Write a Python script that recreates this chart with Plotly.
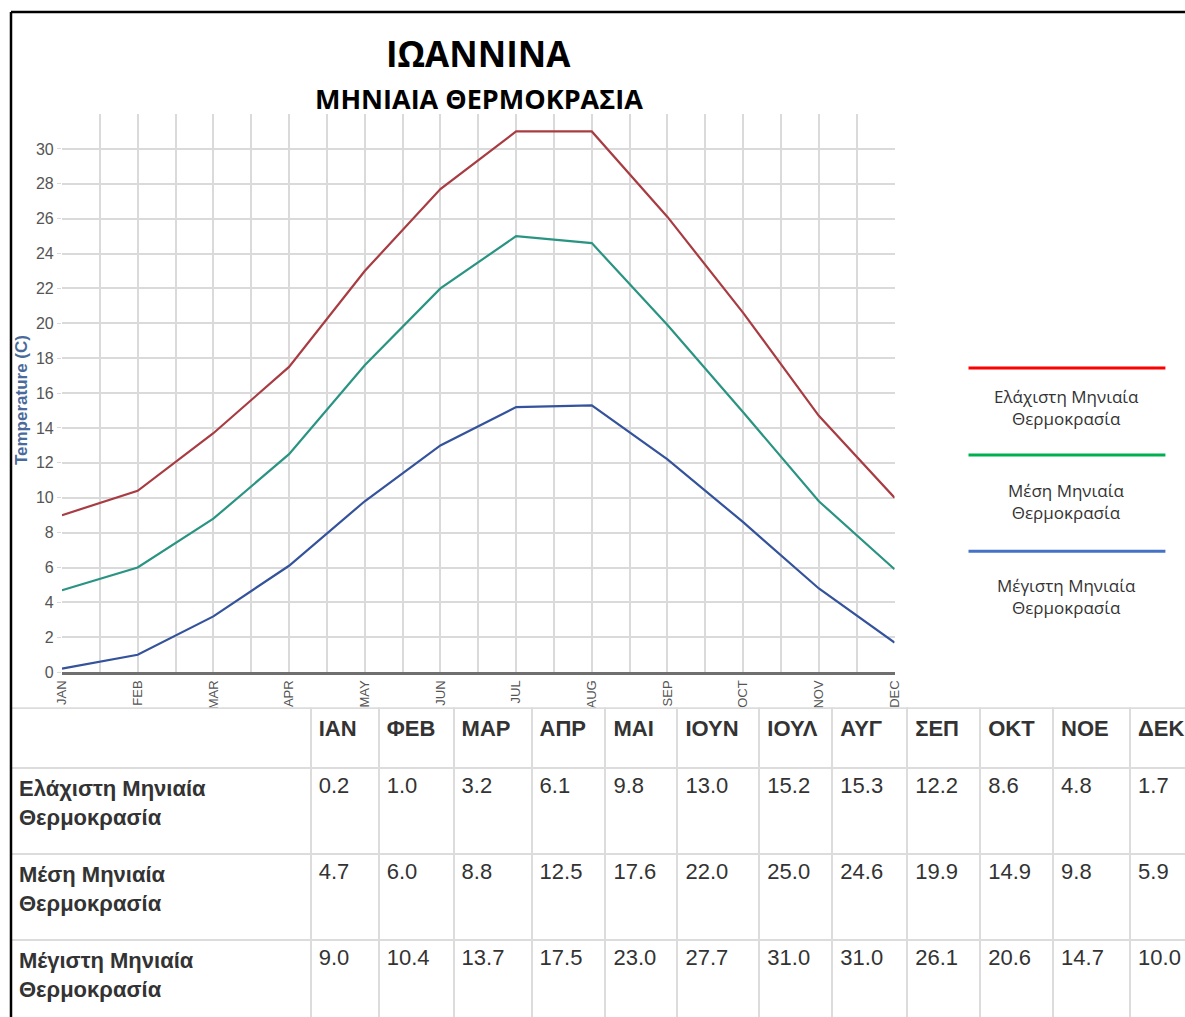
import plotly.graph_objects as go

# ---------------- data ----------------
months_en = ["JAN", "FEB", "MAR", "APR", "MAY", "JUN", "JUL", "AUG", "SEP", "OCT", "NOV", "DEC"]
months_gr = ["ΙΑΝ", "ΦΕΒ", "ΜΑΡ", "ΑΠΡ", "ΜΑΙ", "ΙΟΥΝ", "ΙΟΥΛ", "ΑΥΓ", "ΣΕΠ", "ΟΚΤ", "ΝΟΕ", "ΔΕΚ"]
min_temp = [0.2, 1.0, 3.2, 6.1, 9.8, 13.0, 15.2, 15.3, 12.2, 8.6, 4.8, 1.7]
mean_temp = [4.7, 6.0, 8.8, 12.5, 17.6, 22.0, 25.0, 24.6, 19.9, 14.9, 9.8, 5.9]
max_temp = [9.0, 10.4, 13.7, 17.5, 23.0, 27.7, 31.0, 31.0, 26.1, 20.6, 14.7, 10.0]
row_labels = ["Ελάχιστη Μηνιαία<br>Θερμοκρασία", "Μέση Μηνιαία<br>Θερμοκρασία", "Μέγιστη Μηνιαία<br>Θερμοκρασία"]
legend_labels = ["Ελάχιστη Μηνιαία<br>Θερμοκρασία", "Μέση Μηνιαία<br>Θερμοκρασία", "Μέγιστη Μηνιαία<br>Θερμοκρασία"]
y_ticks = list(range(0, 31, 2))
title = "ΙΩΑΝΝΙΝΑ"
subtitle = "ΜΗΝΙΑΙΑ ΘΕΡΜΟΚΡΑΣΙΑ"

# ---------------- geometry ----------------
W, H = 1200, 1030
def sx(x):
    return (x - 7.0) / 0.988
def sy(y):
    return y / 0.991
def px(x):
    return sx(x) / W
def py(y):
    return 1 - sy(y) / H

x_idx = list(range(len(months_en)))

fig = go.Figure()
line_colors = {"max": "#a83c42", "mean": "#2a9483", "min": "#34539c"}
fig.add_trace(go.Scatter(x=x_idx, y=max_temp, mode="lines",
                         line=dict(color=line_colors["max"], width=2.2), showlegend=False))
fig.add_trace(go.Scatter(x=x_idx, y=mean_temp, mode="lines",
                         line=dict(color=line_colors["mean"], width=2.2), showlegend=False))
fig.add_trace(go.Scatter(x=x_idx, y=min_temp, mode="lines",
                         line=dict(color=line_colors["min"], width=2.2), showlegend=False))

# table
fmt = lambda v: f"{v:.1f}"
col_values = [["<b>" + r.replace("<br>", "</b><br><b>") + "</b>" for r in row_labels]]
for i in range(len(months_gr)):
    col_values.append([fmt(min_temp[i]), fmt(mean_temp[i]), fmt(max_temp[i])])
header_vals = [""] + ["<b>" + m + "</b>" for m in months_gr]
col_widths = [300, 68, 75, 78, 74, 72, 82, 73, 75, 73, 73, 77, 63]
fig.add_trace(go.Table(
    domain=dict(x=[px(10), 1.0], y=[0, py(708)]),
    columnwidth=col_widths,
    header=dict(values=header_vals, height=60, align="left",
                fill_color="white", line=dict(color="#dcdcdc", width=2),
                font=dict(family="Liberation Sans, Arial", size=22, color="#333333")),
    cells=dict(values=col_values, height=86, align="left",
               fill_color="white", line=dict(color="#dcdcdc", width=2),
               font=dict(family="Liberation Sans, Arial", size=22, color="#333333")),
))

grid_c = "#dadada"
fig.update_layout(
    width=W, height=H,
    margin=dict(l=0, r=0, t=0, b=0),
    paper_bgcolor="white", plot_bgcolor="white",
    xaxis=dict(domain=[px(61), px(894)], range=[0, 11], tickvals=x_idx, ticktext=months_en,
               tickangle=-90, showgrid=True, gridcolor=grid_c, gridwidth=1.5,
               minor=dict(dtick=0.5, tick0=0, showgrid=True, gridcolor=grid_c, gridwidth=1.5),
               showline=True, linecolor="#6f6f6f", linewidth=3, zeroline=False,
               ticks="", tickfont=dict(family="Liberation Sans Narrow, Liberation Sans, Arial", size=13, color="#555555")),
    yaxis=dict(domain=[py(672), py(114)], range=[0, 32], tickvals=y_ticks,
               showgrid=True, gridcolor=grid_c, gridwidth=1.5, zeroline=False,
               ticks="outside", ticklen=4, tickcolor=grid_c,
               tickfont=dict(family="Liberation Sans, Arial", size=16, color="#555555")),
)

anns = [
    dict(x=px(478), y=py(53), text="<b>" + title + "</b>", showarrow=False, xref="paper", yref="paper",
         xanchor="center", yanchor="middle", font=dict(family="Open Sans", size=35, color="black")),
    dict(x=px(478), y=py(98), text="<b>" + subtitle + "</b>", showarrow=False, xref="paper", yref="paper",
         xanchor="center", yanchor="middle", font=dict(family="Open Sans", size=27, color="black")),
    dict(x=px(20), y=py(400), text="<b>Temperature (C)</b>", textangle=-90, showarrow=False,
         xref="paper", yref="paper", xanchor="center", yanchor="middle",
         font=dict(family="Liberation Sans, Arial", size=17, color="#4a6a9c")),
]
legend_colors = ["#ff0000", "#00b050", "#4472c4"]
legend_line_y = [368, 455, 551]
legend_text_y = [407, 501, 596]
shapes = []
for lab, col, ly, ty in zip(legend_labels, legend_colors, legend_line_y, legend_text_y):
    shapes.append(dict(type="line", xref="paper", yref="paper", x0=px(968), x1=px(1165),
                       y0=py(ly), y1=py(ly), line=dict(color=col, width=3)))
    anns.append(dict(x=px(1066), y=py(ty), text=lab, showarrow=False, xref="paper", yref="paper",
                     xanchor="center", yanchor="middle",
                     font=dict(family="Open Sans", size=17, color="#333333")))
# outer frame (left and top edges visible)
shapes.append(dict(type="line", xref="paper", yref="paper", x0=px(10), x1=1.0,
                   y0=py(12), y1=py(12), line=dict(color="black", width=2.5), layer="above"))
shapes.append(dict(type="line", xref="paper", yref="paper", x0=px(10), x1=px(10),
                   y0=py(12), y1=0, line=dict(color="black", width=2.5), layer="above"))
fig.update_layout(annotations=anns, shapes=shapes)

post = ("document.body.style.margin='0';"
        "document.documentElement.style.overflow='hidden';"
        "document.body.style.overflow='hidden';")
fig.write_html("out.html", config={"displayModeBar": False}, post_script=post)
